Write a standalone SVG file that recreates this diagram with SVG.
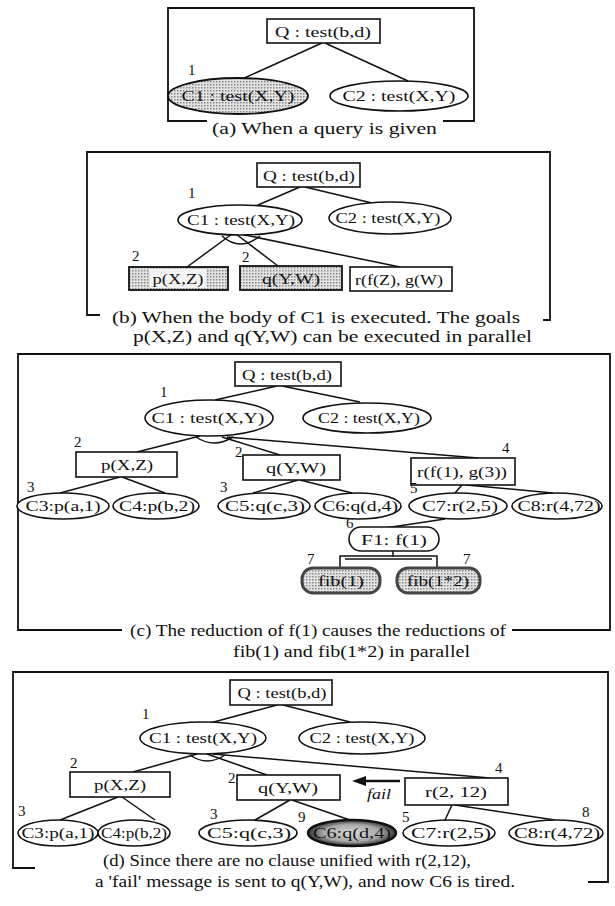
<svg xmlns="http://www.w3.org/2000/svg" width="615" height="906" viewBox="0 0 615 906">
<style>
.bg{fill:#fff}
.n{fill:#fff;stroke:#111;stroke-width:1.6}
.sh{fill:url(#dots);stroke:#111;stroke-width:1.8}
.fib{fill:url(#dots);stroke:#444;stroke-width:3}
.t{font-family:"Liberation Serif","Times New Roman",serif;font-size:15px;fill:#111;text-anchor:middle}
.s{font-size:14px}
.l{font-family:"Liberation Serif","Times New Roman",serif;font-size:15px;fill:#111}
.cap{font-family:"Liberation Serif","Times New Roman",serif;font-size:16px;fill:#111}
.e{stroke:#111;stroke-width:1.5;fill:none}
.fr{stroke:#111;stroke-width:1.8;fill:none}
</style>
<defs>
<pattern id="dots" width="3" height="3" patternUnits="userSpaceOnUse">
<rect width="3" height="3" fill="#e2e2e2"/>
<rect width="1.5" height="1.5" fill="#8a8a8a"/>
</pattern>
<radialGradient id="dark" cx="0.5" cy="0.5" r="0.5">
<stop offset="0" stop-color="#d8d8d8"/>
<stop offset="0.65" stop-color="#a8a8a8"/>
<stop offset="1" stop-color="#333"/>
</radialGradient>
</defs>
<rect class="bg" width="615" height="906"/>

<!-- ===== Panel (a) ===== -->
<g id="frame-a"><path class="fr" d="M207,121 H168 V8 H474 V121 H443"/></g>
<g id="connectors-a">
<path class="e" d="M322,43 L242,79 M325,43 L408,81"/>
</g>
<g id="a-Q"><rect class="n" x="267" y="19" width="113" height="24"/><text class="t" x="323" y="37" textLength="96" lengthAdjust="spacingAndGlyphs">Q : test(b,d)</text></g>
<g id="a-C1"><ellipse class="sh" cx="238" cy="96" rx="70" ry="18"/><text class="l" x="188" y="75">1</text><text class="t" x="238" y="101" textLength="113" lengthAdjust="spacingAndGlyphs">C1 : test(X,Y)</text></g>
<g id="a-C2"><ellipse class="n" cx="399" cy="96" rx="69" ry="15"/><text class="t" x="399" y="101" textLength="113" lengthAdjust="spacingAndGlyphs">C2 : test(X,Y)</text></g>
<text class="cap" x="212" y="134" textLength="225" lengthAdjust="spacingAndGlyphs">(a) When a query is given</text>

<!-- ===== Panel (b) ===== -->
<g id="frame-b"><path class="fr" d="M100,315 H87 V152 H550 V320 H543"/></g>
<g id="connectors-b">
<path class="e" d="M300,187 L258,205 M305,187 L372,203"/>
<path class="e" d="M232,234 L187,267 M236,234 L278,266 M240,234 L400,267"/>
<path class="e" d="M222,236 Q240,252 260,236"/>
</g>
<g id="b-Q"><rect class="n" x="257" y="163" width="103" height="24"/><text class="t" x="309" y="181" textLength="92" lengthAdjust="spacingAndGlyphs">Q : test(b,d)</text></g>
<g id="b-C1"><ellipse class="n" cx="240" cy="220" rx="62" ry="15"/><text class="l" x="188" y="198">1</text><text class="t" x="241" y="225" textLength="108" lengthAdjust="spacingAndGlyphs">C1 : test(X,Y)</text></g>
<g id="b-C2"><ellipse class="n" cx="390" cy="218" rx="61" ry="16"/><text class="t" x="388" y="223" textLength="105" lengthAdjust="spacingAndGlyphs">C2 : test(X,Y)</text></g>
<g id="b-p"><text class="l" x="132" y="261">2</text><rect class="sh" x="129" y="267" width="99" height="23"/><rect x="150" y="269" width="56" height="19" fill="#f4f4f4"/><text class="t" x="178" y="284" textLength="51" lengthAdjust="spacingAndGlyphs">p(X,Z)</text></g>
<g id="b-q"><text class="l" x="242" y="262">2</text><rect class="sh" x="240" y="266" width="102" height="24"/><text class="t" x="291" y="284" textLength="58" lengthAdjust="spacingAndGlyphs">q(Y,W)</text></g>
<g id="b-r"><rect class="n" x="350" y="267" width="102" height="24"/><text class="t" x="399" y="285" textLength="88" lengthAdjust="spacingAndGlyphs">r(f(Z), g(W)</text></g>
<text class="cap" x="112" y="323" textLength="408" lengthAdjust="spacingAndGlyphs">(b) When the body of C1 is executed. The goals</text>
<text class="cap" x="133" y="342" textLength="399" lengthAdjust="spacingAndGlyphs">p(X,Z) and q(Y,W) can be executed in parallel</text>

<!-- ===== Panel (c) ===== -->
<g id="frame-c"><path class="fr" d="M122,630 H18 V354 H610 V630 H512"/></g>
<g id="connectors-c">
<path class="e" d="M277,386 L215,400 M282,386 L360,402"/>
<path class="e" d="M200,436 L137,452 M222,437 L280,455 M227,437 L478,458"/>
<path class="e" d="M196,437 Q214,449 233,437"/>
<path class="e" d="M120,477 L60,493 M122,477 L165,493"/>
<path class="e" d="M298,480 L253,493 M300,480 L352,493"/>
<path class="e" d="M462,485 L455,493 M466,485 L553,493"/>
<path class="e" d="M445,519 L385,528"/>
<path class="e" d="M393,551 V557 M340,568 V556 H437 V568 M345,559 H432"/>
</g>
<g id="c-Q"><rect class="n" x="235" y="362" width="106" height="24"/><text class="t" x="287" y="380" textLength="90" lengthAdjust="spacingAndGlyphs">Q : test(b,d)</text></g>
<g id="c-C1"><ellipse class="n" cx="209" cy="418" rx="64" ry="18"/><text class="l" x="160" y="397">1</text><text class="t" x="208" y="423" textLength="113" lengthAdjust="spacingAndGlyphs">C1 : test(X,Y)</text></g>
<g id="c-C2"><ellipse class="n" cx="367" cy="418" rx="64" ry="15"/><text class="t" x="369" y="423" textLength="102" lengthAdjust="spacingAndGlyphs">C2 : test(X,Y)</text></g>
<g id="c-p"><text class="l" x="74" y="447">2</text><rect class="n" x="76" y="452" width="101" height="25"/><text class="t" x="127" y="470" textLength="52" lengthAdjust="spacingAndGlyphs">p(X,Z)</text></g>
<g id="c-q"><text class="l" x="235" y="457">2</text><rect class="n" x="243" y="455" width="97" height="25"/><text class="t" x="296" y="473" textLength="60" lengthAdjust="spacingAndGlyphs">q(Y,W)</text></g>
<g id="c-r"><text class="l" x="502" y="453">4</text><rect class="n" x="411" y="458" width="104" height="27"/><text class="t" x="462" y="477" textLength="90" lengthAdjust="spacingAndGlyphs">r(f(1), g(3))</text></g>
<g id="c-C3"><text class="l" x="27" y="492">3</text><ellipse class="n" cx="63" cy="506" rx="46" ry="13"/><text class="t s" x="63" y="511" textLength="75" lengthAdjust="spacingAndGlyphs">C3:p(a,1)</text></g>
<g id="c-C4"><ellipse class="n" cx="156" cy="506" rx="43" ry="13"/><text class="t s" x="157" y="511" textLength="76" lengthAdjust="spacingAndGlyphs">C4:p(b,2)</text></g>
<g id="c-C5"><text class="l" x="220" y="492">3</text><ellipse class="n" cx="264" cy="506" rx="46" ry="13"/><text class="t s" x="265" y="511" textLength="80" lengthAdjust="spacingAndGlyphs">C5:q(c,3)</text></g>
<g id="c-C6"><ellipse class="n" cx="358" cy="506" rx="43" ry="13"/><text class="t s" x="360" y="511" textLength="76" lengthAdjust="spacingAndGlyphs">C6:q(d,4)</text></g>
<g id="c-C7"><text class="l" x="410" y="493">5</text><ellipse class="n" cx="458" cy="506" rx="49" ry="13"/><text class="t s" x="460" y="511" textLength="76" lengthAdjust="spacingAndGlyphs">C7:r(2,5)</text></g>
<g id="c-C8"><ellipse class="n" cx="557" cy="506" rx="45" ry="13"/><text class="t s" x="559" y="511" textLength="83" lengthAdjust="spacingAndGlyphs">C8:r(4,72)</text></g>
<g id="c-F1"><text class="l" x="346" y="528" font-size="14">6</text><rect class="n" x="349" y="527" width="90" height="24" rx="12"/><text class="t" x="394" y="545" textLength="66" lengthAdjust="spacingAndGlyphs">F1:  f(1)</text></g>
<g id="c-fib1"><text class="l" x="307" y="564">7</text><rect class="fib" x="302" y="568" width="78" height="25" rx="11"/><text class="t" x="341" y="586" textLength="46" lengthAdjust="spacingAndGlyphs">fib(1)</text></g>
<g id="c-fib2"><text class="l" x="463" y="564">7</text><rect class="fib" x="397" y="568" width="83" height="25" rx="11"/><text class="t" x="438" y="586" textLength="62" lengthAdjust="spacingAndGlyphs">fib(1*2)</text></g>
<text class="cap" x="130" y="636" textLength="376" lengthAdjust="spacingAndGlyphs">(c) The reduction of f(1) causes the reductions of</text>
<text class="cap" x="233" y="657" textLength="237" lengthAdjust="spacingAndGlyphs">fib(1) and fib(1*2) in parallel</text>

<!-- ===== Panel (d) ===== -->
<g id="frame-d"><path class="fr" d="M35,868 H13 V672 H608 V882 H588"/></g>
<g id="connectors-d">
<path class="e" d="M277,705 L210,723 M283,705 L350,722"/>
<path class="e" d="M197,754 L133,772 M207,754 L267,775 M213,754 L490,778"/>
<path class="e" d="M190,755 Q207,767 225,755"/>
<path class="e" d="M118,797 L60,820 M122,797 L155,820"/>
<path class="e" d="M290,800 L255,820 M292,800 L350,820"/>
<path class="e" d="M452,805 L445,820 M455,805 L555,820"/>
<path d="M400,781 L365,781" stroke="#111" stroke-width="2.5" fill="none"/>
<path d="M352,781 L366,776 L366,786 Z" fill="#111"/>
<text class="l" x="367" y="799" font-style="italic" font-size="14" textLength="24" lengthAdjust="spacingAndGlyphs">fail</text>
</g>
<g id="d-Q"><rect class="n" x="230" y="680" width="102" height="25"/><text class="t" x="282" y="698" textLength="89" lengthAdjust="spacingAndGlyphs">Q : test(b,d)</text></g>
<g id="d-C1"><ellipse class="n" cx="203" cy="738" rx="63" ry="16"/><text class="l" x="142" y="719">1</text><text class="t" x="203" y="743" textLength="108" lengthAdjust="spacingAndGlyphs">C1 : test(X,Y)</text></g>
<g id="d-C2"><ellipse class="n" cx="362" cy="738" rx="63" ry="16"/><text class="t" x="362" y="743" textLength="105" lengthAdjust="spacingAndGlyphs">C2 : test(X,Y)</text></g>
<g id="d-p"><text class="l" x="70" y="768">2</text><rect class="n" x="70" y="772" width="100" height="25"/><text class="t" x="120" y="790" textLength="52" lengthAdjust="spacingAndGlyphs">p(X,Z)</text></g>
<g id="d-q"><text class="l" x="228" y="783">2</text><rect class="n" x="237" y="775" width="103" height="25"/><text class="t" x="288" y="793" textLength="60" lengthAdjust="spacingAndGlyphs">q(Y,W)</text></g>
<g id="d-r"><text class="l" x="495" y="773">4</text><rect class="n" x="405" y="778" width="103" height="27"/><text class="t" x="456" y="797" textLength="62" lengthAdjust="spacingAndGlyphs">r(2, 12)</text></g>
<g id="d-C3"><text class="l" x="18" y="816">3</text><ellipse class="n" cx="58" cy="833" rx="40" ry="13"/><text class="t s" x="58" y="838" textLength="73" lengthAdjust="spacingAndGlyphs">C3:p(a,1)</text></g>
<g id="d-C4"><ellipse class="n" cx="134" cy="833" rx="36" ry="13"/><text class="t s" x="134" y="838" textLength="66" lengthAdjust="spacingAndGlyphs">C4:p(b,2)</text></g>
<g id="d-C5"><text class="l" x="210" y="819">3</text><ellipse class="n" cx="248" cy="833" rx="49" ry="13"/><text class="t s" x="249" y="838" textLength="84" lengthAdjust="spacingAndGlyphs">C5:q(c,3)</text></g>
<g id="d-C6"><text class="l" x="298" y="822">9</text><ellipse cx="352" cy="833" rx="44" ry="13" fill="url(#dark)" stroke="#111" stroke-width="2.5"/><text class="t s" x="352" y="838" textLength="78" lengthAdjust="spacingAndGlyphs">C6:q(d,4)</text></g>
<g id="d-C7"><text class="l" x="402" y="822">5</text><ellipse class="n" cx="449" cy="833" rx="46" ry="13"/><text class="t s" x="451" y="838" textLength="80" lengthAdjust="spacingAndGlyphs">C7:r(2,5)</text></g>
<g id="d-C8"><text class="l" x="582" y="817">8</text><ellipse class="n" cx="556" cy="833" rx="47" ry="13"/><text class="t s" x="557" y="838" textLength="86" lengthAdjust="spacingAndGlyphs">C8:r(4,72)</text></g>
<text class="cap" x="103" y="866" textLength="368" lengthAdjust="spacingAndGlyphs">(d) Since there are no clause unified with r(2,12),</text>
<text class="cap" x="95" y="887" textLength="420" lengthAdjust="spacingAndGlyphs">a 'fail' message is sent to q(Y,W), and now  C6 is tired.</text>
</svg>
